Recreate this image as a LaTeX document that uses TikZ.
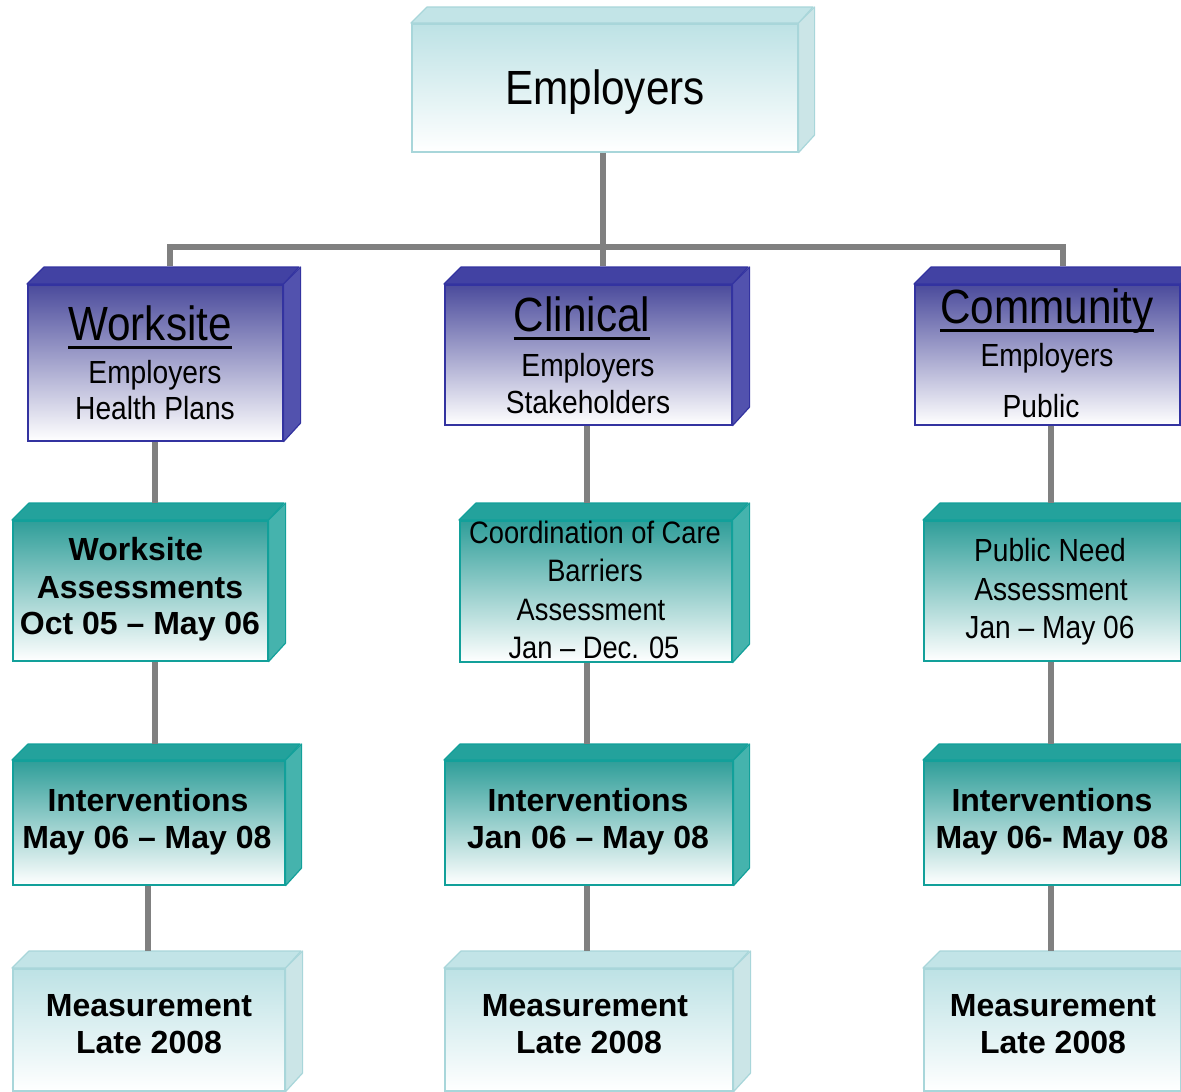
\documentclass[tikz,border=0pt]{standalone}
\usepackage{fontspec}
\setmainfont{Liberation Sans}
\newfontfamily\nar[FakeStretch=0.88]{Liberation Sans}
\usetikzlibrary{calc}
\definecolor{blue-edge}{HTML}{3333A0}
\definecolor{blue-top}{HTML}{4B4B9C}
\definecolor{blue-side}{HTML}{4242A3}
\definecolor{blue-side2}{HTML}{5252AE}
\definecolor{teal-edge}{HTML}{12A09A}
\definecolor{teal-top}{HTML}{2F9E99}
\definecolor{teal-side}{HTML}{23A29C}
\definecolor{teal-side2}{HTML}{45B3AD}
\definecolor{light-edge}{HTML}{A8D6DA}
\definecolor{light-top}{HTML}{BDE2E5}
\definecolor{light-side}{HTML}{C2E4E7}
\definecolor{light-side2}{HTML}{CBE5E7}
\definecolor{connc}{HTML}{808080}
\tikzset{
  conn/.style={draw=connc, line width=6pt, line join=miter},
  txtbig/.style={font=\nar\fontsize{48}{50}\selectfont, inner sep=0pt, anchor=base},
  txtreg/.style={font=\nar\fontsize{32}{34}\selectfont, inner sep=0pt, anchor=base},
  txtsmall/.style={font=\nar\fontsize{31}{33}\selectfont, inner sep=0pt, anchor=base},
  txtbold/.style={font=\bfseries\fontsize{32}{34}\selectfont, inner sep=0pt, anchor=base},
  uline/.style={line width=3pt, black}
}
% name, kind, x1, y1, x2, y2, depth
\newcommand\mkbox[7]{%
  \node[draw=#2-edge, line width=1.6pt, top color=#2-top, bottom color=white,
        minimum width={#5-#3}, minimum height={#6-#4}, inner sep=0pt,
        anchor=north west] (#1) at (#3,#4) {};
  \draw[#2-edge, fill=#2-side, line width=1.2pt, line join=round]
    (#1.north west) -- ++(#7,-#7) -- ++(#5-#3,0) -- (#1.north east) -- cycle;
  \draw[#2-edge, fill=#2-side2, line width=1.2pt, line join=round]
    (#1.north east) -- ++(#7,-#7) -- ++(0,#6-#4) -- (#1.south east) -- cycle;
}
\begin{document}
\begin{tikzpicture}[x=1pt,y=-1pt]
\clip (0,0) rectangle (1181,1092);
\fill[white] (0,0) rectangle (1181,1092);

% connector end points
\coordinate (busl) at (170,247);
\coordinate (busc) at (603,247);
\coordinate (busr) at (1063,247);
\coordinate (ws-top) at (170,266);
\coordinate (cl-top) at (603,266);
\coordinate (cm-top) at (1063,266);
\coordinate (wa-top) at (155,503);
\coordinate (i1-top) at (155,744);
\coordinate (m1-top) at (148,951);
\coordinate (co-top) at (587,503);
\coordinate (i2-top) at (587,744);
\coordinate (m2-top) at (587,951);
\coordinate (pn-top) at (1051,503);
\coordinate (i3-top) at (1051,744);
\coordinate (m3-top) at (1051,951);

% boxes
\mkbox{emp}{light}{411}{23}{797}{151}{16}
\mkbox{ws}{blue}{27}{284}{282}{440}{17}
\mkbox{cl}{blue}{444}{284}{731}{424}{17}
\mkbox{cm}{blue}{914}{284}{1179}{424}{17}
\mkbox{wa}{teal}{12}{520}{267}{660}{17}
\mkbox{co}{teal}{459}{520}{731}{661}{17}
\mkbox{pn}{teal}{923}{520}{1180}{660}{17}
\mkbox{ia}{teal}{12}{760}{284}{884}{16}
\mkbox{ib}{teal}{444}{760}{732}{884}{16}
\mkbox{ic}{teal}{923}{760}{1180}{884}{16}
\mkbox{ma}{light}{12}{968}{284}{1090}{17}
\mkbox{mb}{light}{444}{968}{732}{1090}{17}
\mkbox{mc}{light}{923}{968}{1180}{1090}{17}

% connectors
\draw[conn] (emp.south -| busc) -- (cl-top);
\draw[conn] (ws-top) -- (busl) -- (busr) -- (cm-top);
\draw[conn] (ws.south -| wa-top) -- (wa-top);
\draw[conn] (wa.south -| i1-top) -- (i1-top);
\draw[conn] (ia.south -| m1-top) -- (m1-top);
\draw[conn] (cl.south -| co-top) -- (co-top);
\draw[conn] (co.south -| i2-top) -- (i2-top);
\draw[conn] (ib.south -| m2-top) -- (m2-top);
\draw[conn] (cm.south -| pn-top) -- (pn-top);
\draw[conn] (pn.south -| i3-top) -- (i3-top);
\draw[conn] (ic.south -| m3-top) -- (m3-top);

% texts
\node[txtbig] (emp-t) at (605,104) {Employers};

\node[txtbig] (ws-a) at (150,340) {Worksite};
\draw[uline] ($(ws-a.base west)+(0,7)$) -- ($(ws-a.base east)+(0,7)$);
\node[txtreg] (ws-b) at (155,383) {Employers};
\node[txtreg] (ws-c) at (155,419) {Health Plans};

\node[txtbig] (cl-a) at (582,331) {Clinical};
\draw[uline] ($(cl-a.base west)+(0,7)$) -- ($(cl-a.base east)+(0,7)$);
\node[txtreg] (cl-b) at (588,376) {Employers};
\node[txtreg] (cl-c) at (588,413) {Stakeholders};

\node[txtbig] (cm-a) at (1047,323) {Community};
\draw[uline] ($(cm-a.base west)+(0,7)$) -- ($(cm-a.base east)+(0,7)$);
\node[txtreg] (cm-b) at (1047,366) {Employers};
\node[txtreg] (cm-c) at (1041,417) {Public};

\node[txtbold] (wa-a) at (136,560) {Worksite};
\node[txtbold] (wa-b) at (140,598) {Assessments};
\node[txtbold] (wa-c) at (140,634) {Oct 05 – May 06};

\node[txtsmall] (co-a) at (595,543) {Coordination of Care};
\node[txtsmall] (co-b) at (595,581) {Barriers};
\node[txtsmall] (co-c) at (591,620) {Assessment};
\node[txtsmall] (co-d) at (594,658) {Jan – Dec. 05};

\node[txtreg] (pn-a) at (1050,561) {Public Need};
\node[txtreg] (pn-b) at (1051,600) {Assessment};
\node[txtreg] (pn-c) at (1050,638) {Jan – May 06};

\node[txtbold] (ia-a) at (148,811) {Interventions};
\node[txtbold] (ia-b) at (147,848) {May 06 – May 08};
\node[txtbold] (ib-a) at (588,811) {Interventions};
\node[txtbold] (ib-b) at (588,848) {Jan 06 – May 08};
\node[txtbold] (ic-a) at (1052,811) {Interventions};
\node[txtbold] (ic-b) at (1052,848) {May 06- May 08};

\node[txtbold] (ma-a) at (149,1016) {Measurement};
\node[txtbold] (ma-b) at (149,1053) {Late 2008};
\node[txtbold] (mb-a) at (585,1016) {Measurement};
\node[txtbold] (mb-b) at (589,1053) {Late 2008};
\node[txtbold] (mc-a) at (1053,1016) {Measurement};
\node[txtbold] (mc-b) at (1053,1053) {Late 2008};
\end{tikzpicture}
\end{document}
